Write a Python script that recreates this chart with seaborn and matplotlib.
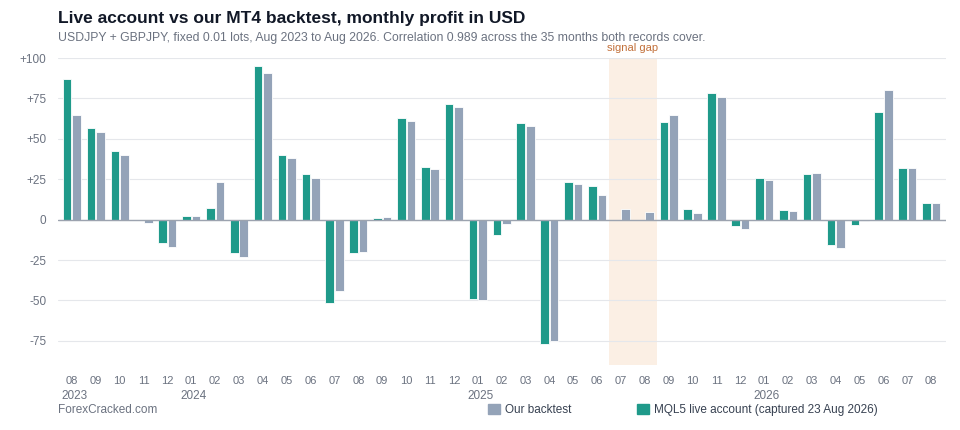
import matplotlib
matplotlib.use("Agg")
import matplotlib.pyplot as plt
import seaborn as sns
import numpy as np
import pandas as pd
from matplotlib.patches import Patch
from matplotlib.transforms import blended_transform_factory

months = ["08","09","10","11","12","01","02","03","04","05","06","07","08","09","10","11","12",
          "01","02","03","04","05","06","07","08","09","10","11","12",
          "01","02","03","04","05","06","07","08"]
year_marks = {0: "2023", 5: "2024", 17: "2025", 29: "2026"}
live = [87, 57, 42.5, 0, -14.5, 2.5, 7.5, -20.5, 95, 40, 28.5, -51.5, -20.5, 1, 63, 32.5, 71.5,
        -49, -9.5, 60, -77, 23.5, 21, np.nan, np.nan, 60.5, 6.5, 78.5, -4,
        25.5, 6, 28, -15.5, -3.5, 66.5, 32, 10]
backtest = [64.5, 54, 40, -2, -17, 2, 23, -23, 91, 38, 26, -44, -20, 1.5, 61, 31.5, 69.5,
            -50, -3, 58, -75, 22, 15, 6.5, 4.5, 65, 4, 76, -5.5,
            24.5, 5.5, 29, -17.5, -1, 80, 32, 10]
live_name = "MQL5 live account (captured 23 Aug 2026)"
bt_name = "Our backtest"
C_LIVE = "#1f9a8a"
C_BT = "#94a3b8"

idx = list(range(len(months)))
df = pd.DataFrame({
    "i": idx * 2,
    "value": live + backtest,
    "series": [live_name] * len(idx) + [bt_name] * len(idx),
})

sns.set_theme(style="white")
plt.rcParams['font.family'] = ['Liberation Sans', 'DejaVu Sans']
fig = plt.figure(figsize=(9.6, 4.3), dpi=100)
ax = fig.add_axes([0.06, 0.151, 0.925, 0.714])

ax.axvspan(22.5, 24.5, color="#fbeee2", alpha=0.9, zorder=0, lw=0)

sns.barplot(data=df, x="i", y="value", hue="series", hue_order=[live_name, bt_name],
            palette={live_name: C_LIVE, bt_name: C_BT}, width=0.8, gap=0.1, saturation=1,
            edgecolor="white", linewidth=0.6, ax=ax, legend=False, zorder=2)

ax.set_ylim(-90, 100)
ax.set_xlim(-0.6, len(months) - 0.4)
ax.set_yticks([-75, -50, -25, 0, 25, 50, 75, 100])
ax.set_yticklabels(["-75", "-50", "-25", "0", "+25", "+50", "+75", "+100"], fontsize=8.5, color="#6b7280")
ax.set_xticks(idx)
ax.set_xticklabels(months, fontsize=8, color="#6b7280")
ax.tick_params(axis="both", length=0, pad=8)
ax.yaxis.grid(True, color="#e5e7eb", lw=0.8)
ax.set_axisbelow(True)
ax.axhline(0, color="#9ca3af", lw=1, zorder=3)
for s in ax.spines.values():
    s.set_visible(False)
ax.set_xlabel("")
ax.set_ylabel("")

trans = blended_transform_factory(ax.transData, fig.transFigure)
ax.text(23.5, 1 - 48 / 430, "signal gap", transform=trans, ha="center", va="center",
        color="#c2703a", fontsize=8, clip_on=False)

for i, y in year_marks.items():
    ax.text(i - 0.45, -0.08, y, transform=ax.get_xaxis_transform(), ha="left", va="top",
            fontsize=8.5, color="#6b7280")

fig.text(0.06, 1 - 18 / 430, "Live account vs our MT4 backtest, monthly profit in USD", fontsize=12.5,
         fontweight="bold", color="#111827", va="center")
fig.text(0.06, 1 - 38 / 430, "USDJPY + GBPJPY, fixed 0.01 lots, Aug 2023 to Aug 2026. Correlation 0.989 across the 35 months both records cover.",
         fontsize=8.8, color="#6b7280", va="center")
fig.text(0.06, 1 - 410 / 430, "ForexCracked.com", fontsize=8.5, color="#6b7280", va="center")

handles = [Patch(color=C_BT, label=bt_name), Patch(color=C_LIVE, label=live_name)]
fig.legend(handles=handles, loc="center left", bbox_to_anchor=(0.497, 1 - 410 / 430), ncol=2, frameon=False,
           fontsize=8.5, handlelength=1.0, handleheight=1.0, columnspacing=5.5, handletextpad=0.5,
           labelcolor="#374151")

fig.savefig("out.png", dpi=100)
